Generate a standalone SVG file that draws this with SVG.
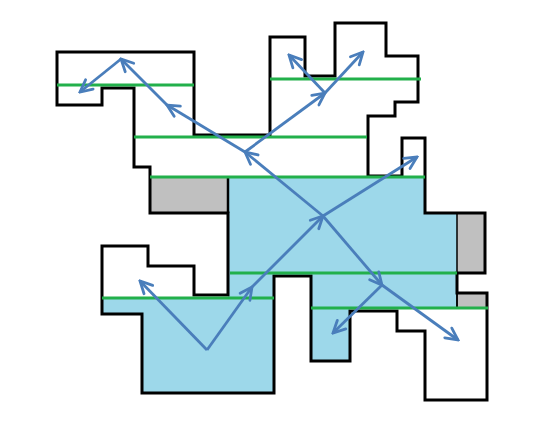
<svg xmlns="http://www.w3.org/2000/svg" width="558" height="432" viewBox="0 0 558 432">
<style>
.outline{fill:none;stroke:#000;stroke-width:3;stroke-linejoin:miter}
.blue{fill:#9dd8ea;stroke:none}
.gray{fill:#c0c0c0;stroke:#000;stroke-width:1.5}
.green{stroke:#22b04b;stroke-width:3;fill:none}
.ray{stroke:#4a7ebb;stroke-width:2.8;fill:none;marker-end:url(#ah)}
</style>
<defs>
<marker id="ah" viewBox="0 0 16 16" refX="14" refY="8" markerWidth="16" markerHeight="16" markerUnits="userSpaceOnUse" orient="auto">
<path d="M2,2 L14,8 L2,14" fill="none" stroke="#4a7ebb" stroke-width="2.8" stroke-linecap="round" stroke-linejoin="miter"/>
</marker>
</defs>
<rect width="558" height="432" fill="#fff"/>
<g id="water">
<polygon class="blue" points="228,177 425,177 425,213 457,213 457,308 350,308 350,361 311,361 311,276 274,276 274,393 142,393 142,314 102,314 102,298 228,298"/>
</g>
<g id="gray-left"><rect class="gray" x="150" y="177" width="78" height="36"/><line x1="228" y1="177" x2="228" y2="213" stroke="#000" stroke-width="2.5"/></g>
<g id="gray-right"><rect class="gray" x="457" y="213" width="28" height="60"/><rect class="gray" x="457" y="293" width="30" height="15"/></g>
<g id="walls">
<polygon class="outline" points="57,52 194,52 194,135 270,135 270,37 305,37 305,76 335,76 335,23 386,23 386,56 418,56 418,102 395,102 395,116 368,116 368,176 402,176 402,138 425,138 425,213 485,213 485,273 457,273 457,293 487,293 487,400 425,400 425,331 397,331 397,311 350,311 350,361 311,361 311,276 274,276 274,393 142,393 142,314 102,314 102,246 148,246 148,266 194,266 194,295 228,295 228,213 150,213 150,167 134,167 134,88 102,88 102,105 57,105"/>
<line x1="457" y1="273" x2="457" y2="308" stroke="#000" stroke-width="1.5"/>
</g>
<g id="levels">
<line class="green" x1="57" y1="85" x2="194" y2="85"/>
<line class="green" x1="270" y1="79" x2="421" y2="79"/>
<line class="green" x1="134" y1="137" x2="367" y2="137"/>
<line class="green" x1="150" y1="177" x2="425" y2="177"/>
<line class="green" x1="230" y1="273" x2="457" y2="273"/>
<line class="green" x1="102" y1="298" x2="274" y2="298"/>
<line class="green" x1="311" y1="308" x2="488" y2="308"/>
</g>
<g id="connectors">
<line class="ray" x1="121" y1="59" x2="80" y2="92"/>
<line class="ray" x1="167" y1="105" x2="121" y2="59"/>
<line class="ray" x1="245" y1="152" x2="167" y2="105"/>
<line class="ray" x1="323" y1="216" x2="245" y2="152"/>
<line class="ray" x1="245" y1="152" x2="325" y2="93"/>
<line class="ray" x1="325" y1="93" x2="363" y2="52"/>
<line class="ray" x1="325" y1="93" x2="289" y2="55"/>
<line class="ray" x1="207" y1="350" x2="140" y2="281"/>
<line class="ray" x1="207" y1="350" x2="252" y2="287"/>
<line class="ray" x1="252" y1="287" x2="323" y2="216"/>
<line class="ray" x1="323" y1="216" x2="417" y2="157"/>
<line class="ray" x1="323" y1="216" x2="382" y2="285"/>
<line class="ray" x1="382" y1="285" x2="333" y2="333"/>
<line class="ray" x1="382" y1="285" x2="458" y2="340"/>
</g>
</svg>
